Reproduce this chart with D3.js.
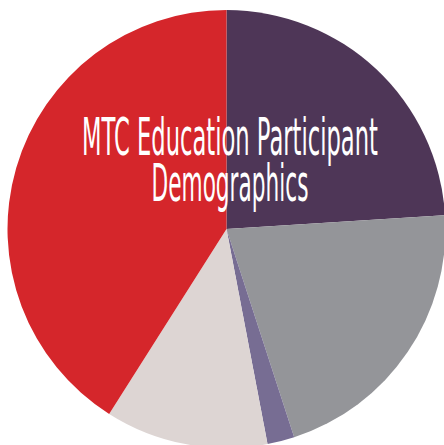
<!DOCTYPE html>
<html><head><meta charset="utf-8">
<script src="https://cdn.jsdelivr.net/npm/d3@7"></script>
<style>html,body{margin:0;padding:0;background:#fff;overflow:hidden}</style>
</head><body>
<svg id="chart" width="444" height="445"></svg>
<script>
const categories = ["Segment A", "Segment B", "Segment C", "Segment D", "Segment E"];
const values = [24, 21, 2, 12, 41];
const colors = ["#4e3657", "#949599", "#776d93", "#ddd5d3", "#d5262b"];
const titleLines = ["MTC Education Participant", "Demographics"];

const svg = d3.select("#chart");
const cx = 226.5, cy = 229, r = 219;
const g = svg.append("g").attr("transform", `translate(${cx},${cy})`);
const pie = d3.pie().sort(null).value(d => d.v);
const arc = d3.arc().innerRadius(0).outerRadius(r);
const data = categories.map((c, i) => ({c, v: values[i], col: colors[i]}));
g.selectAll("path").data(pie(data)).join("path")
  .attr("d", arc).attr("fill", d => d.data.col);

const widths = [296, 157];
const baselines = [155, 201];
const tg = svg.selectAll("g.t").data(titleLines).join("g")
  .attr("class", "t");
tg.append("text")
  .attr("x", 0).attr("y", 0)
  .attr("text-anchor", "middle")
  .attr("fill", "#fff")
  .style("font-family", "'DejaVu Sans Condensed', 'Liberation Sans Narrow', sans-serif")
  .style("font-size", "51px")
  .text(d => d);
tg.each(function(d, i) {
  const t = d3.select(this).select("text").node();
  const w = t.getComputedTextLength();
  const sx = widths[i] / w;
  d3.select(this).attr("transform", `translate(230,${baselines[i]}) scale(${sx},1)`);
});
</script>
</body></html>
